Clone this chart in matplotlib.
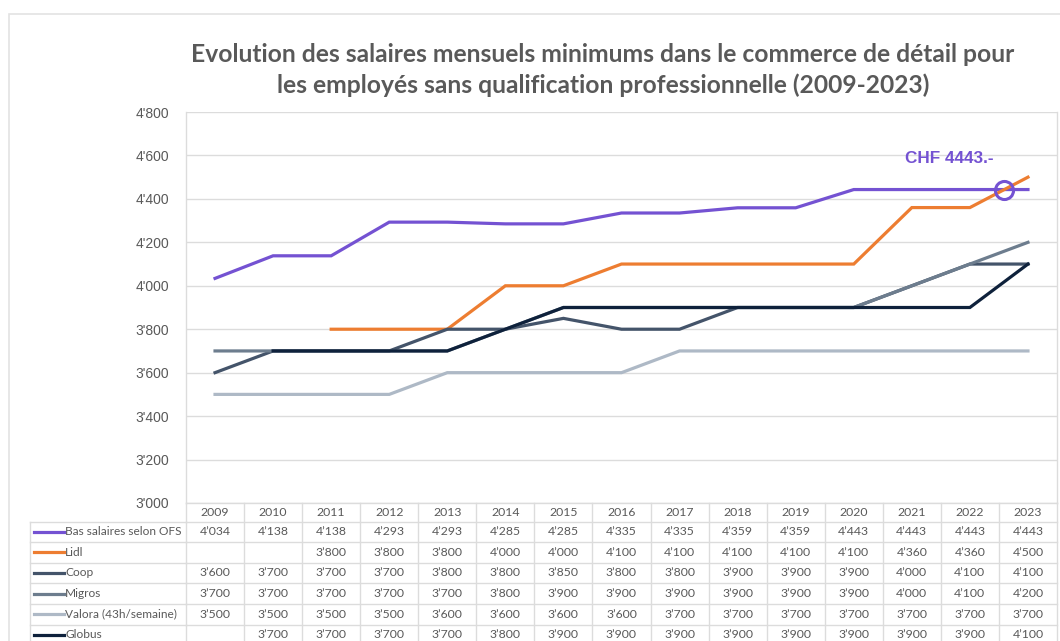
import matplotlib
matplotlib.use("Agg")
import matplotlib.pyplot as plt
import numpy as np
from matplotlib.lines import Line2D
from matplotlib.patches import Rectangle
from matplotlib.transforms import blended_transform_factory

W, H = 1060, 641

years = [2009, 2010, 2011, 2012, 2013, 2014, 2015, 2016, 2017, 2018, 2019, 2020, 2021, 2022, 2023]
series_names = ["Bas salaires selon OFS", "Lidl", "Coop", "Migros", "Valora (43h/semaine)", "Globus"]
bas_salaires = [4034, 4138, 4138, 4293, 4293, 4285, 4285, 4335, 4335, 4359, 4359, 4443, 4443, 4443, 4443]
lidl = [None, None, 3800, 3800, 3800, 4000, 4000, 4100, 4100, 4100, 4100, 4100, 4360, 4360, 4500]
coop = [3600, 3700, 3700, 3700, 3800, 3800, 3850, 3800, 3800, 3900, 3900, 3900, 4000, 4100, 4100]
migros = [3700, 3700, 3700, 3700, 3700, 3800, 3900, 3900, 3900, 3900, 3900, 3900, 4000, 4100, 4200]
valora = [3500, 3500, 3500, 3500, 3600, 3600, 3600, 3600, 3700, 3700, 3700, 3700, 3700, 3700, 3700]
globus = [None, 3700, 3700, 3700, 3700, 3800, 3900, 3900, 3900, 3900, 3900, 3900, 3900, 3900, 4100]
colors = ["#7452D2", "#ED7D31", "#44546A", "#6D7D8E", "#AEB9C6", "#0E213B"]
yticks = [3000, 3200, 3400, 3600, 3800, 4000, 4200, 4400, 4600, 4800]
title = ("Evolution des salaires mensuels minimums dans le commerce de détail pour\n"
         "les employés sans qualification professionnelle (2009-2023)")
annot_text = "CHF 4443.-"
annot_value = 4443

all_series = [bas_salaires, lidl, coop, migros, valora, globus]

fig = plt.figure(figsize=(W / 100, H / 100), dpi=100)
fig.patch.set_facecolor("white")

def fx(px):
    return px / W

def fy(py):
    return 1 - py / H

# outer frame
fig.add_artist(Rectangle((fx(9), fy(700)), fx(1100), fy(14) - fy(700), transform=fig.transFigure,
                         fill=False, edgecolor="#E3E3E3", lw=1.2))

ax_left, ax_right, ax_top, ax_bot = 186, 1057, 112, 503
ax = fig.add_axes([fx(ax_left), fy(ax_bot), fx(ax_right - ax_left), fy(ax_top) - fy(ax_bot)])
x = np.arange(len(years))
ax.set_xlim(-0.5, len(years) - 0.5)
ax.set_ylim(3000, 4800)
ax.set_yticks(yticks)
ax.set_yticklabels([f"{v // 1000}'{v % 1000:03d}" for v in yticks],
                   fontsize=10, color="#595959", family="Liberation Sans")
ax.tick_params(axis="y", length=0, pad=12)
ax.set_xticks([])
ax.grid(axis="y", color="#DCDCDC", lw=1)
ax.set_axisbelow(True)
for s in ["top", "bottom"]:
    ax.spines[s].set_visible(False)
for s in ["left", "right"]:
    ax.spines[s].set_color("#DCDCDC")
    ax.spines[s].set_linewidth(1)

for vals, c in zip(all_series, colors):
    y = np.array([np.nan if v is None else v for v in vals], dtype=float)
    ax.plot(x, y, color=c, lw=2.3, solid_joinstyle="miter", clip_on=False)

# circle where Lidl crosses the OFS low-wage level (between 2022 and 2023)
i0 = len(years) - 2
cx = i0 + (annot_value - lidl[i0]) / (lidl[i0 + 1] - lidl[i0])
ax.plot([cx], [annot_value], marker="o", ms=13, mfc="none", mec=colors[0], mew=2.2, clip_on=False)
ax.annotate(annot_text, (cx, annot_value), xytext=(-40, 22), textcoords="offset points",
            ha="center", va="center", fontsize=12.3, fontweight="bold", color=colors[0],
            family="Liberation Sans")

fig.text(fx(603), fy(70), title, ha="center", va="center", fontsize=17.7, fontweight="bold",
         color="#595959", family="Lato", linespacing=1.4)

# data table
tr = blended_transform_factory(ax.transData, fig.transFigure)
grid_c = "#DCDCDC"
header_top, header_bot = 503, 521.5
row_h = 20.6
n_rows = len(series_names)
row_edges = [header_bot + i * row_h for i in range(n_rows + 1)]
x_lo, x_hi = -0.5, len(years) - 0.5
tfont = "Lato"
tcol = "#595959"

fig.add_artist(Line2D([x_lo, x_hi], [fy(header_top)] * 2, transform=tr, color=grid_c, lw=1))
for e in row_edges:
    fig.add_artist(Line2D([fx(30), fx(ax_left)], [fy(e)] * 2, transform=fig.transFigure, color=grid_c, lw=1))
    fig.add_artist(Line2D([x_lo, x_hi], [fy(e)] * 2, transform=tr, color=grid_c, lw=1))
fig.add_artist(Line2D([fx(30)] * 2, [fy(header_bot), fy(row_edges[-1])], transform=fig.transFigure,
                      color=grid_c, lw=1))
for i in range(len(years) + 1):
    fig.add_artist(Line2D([i - 0.5] * 2, [fy(header_top), fy(row_edges[-1])], transform=tr,
                          color=grid_c, lw=1))

for i, yr in enumerate(years):
    fig.text(i, fy((header_top + header_bot) / 2), str(yr), transform=tr, ha="center", va="center",
             fontsize=8.8, color=tcol, family=tfont)

for r, (name, vals, c) in enumerate(zip(series_names, all_series, colors)):
    yc = fy(row_edges[r] + row_h / 2)
    fig.add_artist(Line2D([fx(34), fx(64)], [yc, yc], transform=fig.transFigure, color=c, lw=2.3))
    fig.text(fx(65), yc, name, ha="left", va="center", fontsize=8.6, color=tcol, family=tfont)
    for i, v in enumerate(vals):
        if v is None:
            continue
        fig.text(i, yc, f"{v // 1000}\u2019{v % 1000:03d}", transform=tr, ha="center", va="center",
                 fontsize=8.8, color=tcol, family=tfont)

fig.savefig("out.png", dpi=100, facecolor="white")
